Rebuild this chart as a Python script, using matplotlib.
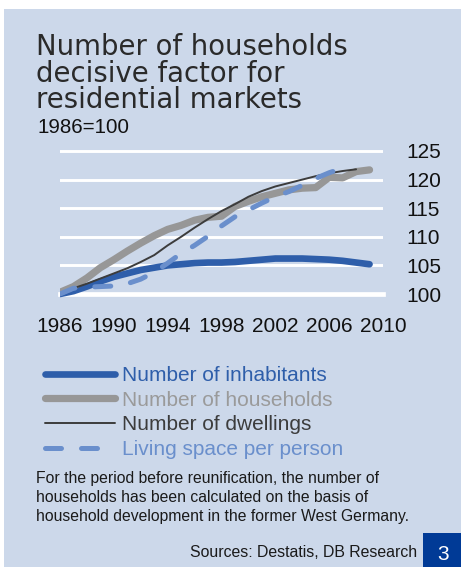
import matplotlib
matplotlib.use("Agg")
import matplotlib.pyplot as plt
from matplotlib.patches import Rectangle
import numpy as np

# ---------------- data ----------------
years_inh = list(range(1986, 2010))
inhabitants = [100.0, 100.5, 101.3, 102.2, 103.0, 103.6, 104.2, 104.6, 105.0, 105.2,
               105.4, 105.5, 105.5, 105.6, 105.8, 106.0, 106.2, 106.2, 106.2, 106.1,
               106.0, 105.8, 105.5, 105.2]

years_hh = list(range(1986, 2010))
households = [100.3, 101.3, 102.8, 104.6, 106.0, 107.5, 108.9, 110.2, 111.3, 112.0,
              112.9, 113.4, 113.6, 115.3, 116.2, 117.0, 117.6, 118.2, 118.5, 118.6,
              120.4, 120.3, 121.4, 121.7]

years_dw = list(range(1987, 2009))
dwellings = [101.0, 101.8, 102.7, 103.6, 104.5, 105.6, 106.8, 108.5, 110.0, 111.6,
             113.1, 114.5, 115.7, 117.0, 118.0, 118.8, 119.4, 120.0, 120.6, 121.1,
             121.5, 121.8]

years_ls = list(range(1986, 2008))
living_space = [100.0, 101.0, 101.2, 101.3, 101.4, 101.8, 102.6, 103.8, 105.4, 107.1,
                108.5, 110.1, 111.9, 113.5, 114.7, 115.9, 117.0, 117.9, 119.0, 120.2,
                121.2, 122.0]

series_labels = ["Number of inhabitants", "Number of households",
                 "Number of dwellings", "Living space per person"]
x_ticks = [1986, 1990, 1994, 1998, 2002, 2006, 2010]
x_ticklabels = ["1986", "1990", "1994", "1998", "2002", "2006", "2010"]
y_ticks = [100, 105, 110, 115, 120, 125]
y_ticklabels = ["100", "105", "110", "115", "120", "125"]

title_lines = ["Number of households", "decisive factor for", "residential markets"]
subtitle = "1986=100"
footnote_lines = ["For the period before reunification, the number of",
                  "households has been calculated on the basis of",
                  "household development in the former West Germany."]
source_text = "Sources: Destatis, DB Research"
badge_text = "3"

# ---------------- style ----------------
W, H = 461, 567
BG = "#CCD8EA"
C_INH = "#2E5EAA"
C_HH = "#979797"
C_DW = "#3C3C3C"
C_LS = "#6A8FCC"
BADGE = "#003A96"
SANS = ["Liberation Sans", "DejaVu Sans"]

fig = plt.figure(figsize=(W / 100, H / 100), dpi=100)
fig.patch.set_facecolor("white")

def fx(px):
    return px / W

def fy(py):
    return 1 - py / H

# panel background
fig.patches.append(Rectangle((fx(4), 0), 1 - fx(4), fy(9), transform=fig.transFigure,
                             facecolor=BG, edgecolor="none", zorder=-10))

# title
for i, line in enumerate(title_lines):
    fig.text(fx(36), fy(55 + i * 26.6), line, fontsize=19.8, family="DejaVu Sans",
             color="#2a2a2a", va="baseline", ha="left")
fig.text(fx(37), fy(133), subtitle, fontsize=14.8, family=SANS,
         color="#111111", va="baseline", ha="left")

# axes
ymin, ymax = 98, 126
py100, py125 = 294.0, 151.0
ppu = (py100 - py125) / 25.0
top_px = py125 - (ymax - 125) * ppu
bot_px = py100 + (100 - ymin) * ppu
ax = fig.add_axes([fx(60), fy(bot_px), fx(383) - fx(60), (bot_px - top_px) / H])
ax.set_facecolor("none")
ax.set_xlim(1986, 2010)
ax.set_ylim(ymin, ymax)

ax.plot(years_inh, inhabitants, color=C_INH, lw=4.8, solid_capstyle="round",
        solid_joinstyle="round", zorder=3, label=series_labels[0])
ax.plot(years_hh, households, color=C_HH, lw=5.2, solid_capstyle="round",
        solid_joinstyle="round", zorder=4, label=series_labels[1])
ax.plot(years_dw, dwellings, color=C_DW, lw=1.4, solid_capstyle="round",
        solid_joinstyle="round", zorder=5, label=series_labels[2])
ax.plot(years_ls, living_space, color=C_LS, lw=3.6, dashes=(3.2, 4.0),
        dash_capstyle="round", zorder=6, label=series_labels[3])

for s in ["top", "left", "right"]:
    ax.spines[s].set_visible(False)
ax.spines["bottom"].set_position(("data", 100))
ax.spines["bottom"].set_color("white")
ax.spines["bottom"].set_linewidth(3.4)
ax.spines["bottom"].set_zorder(1)

ax.set_yticks(y_ticks, labels=y_ticklabels)
ax.yaxis.tick_right()
ax.tick_params(axis="y", length=0, pad=16.5, labelsize=15, labelcolor="#111111")
for t in ax.get_yticklabels():
    t.set_family(SANS)
    t.set_ha("left")
ax.set_xticks(x_ticks, labels=x_ticklabels)
ax.tick_params(axis="x", length=0, pad=16.5, labelsize=15, labelcolor="#111111")
for t in ax.get_xticklabels():
    t.set_family(SANS)

ax.yaxis.grid(True, color="white", lw=2.1, zorder=1)
ax.set_axisbelow(True)

# legend
handles, labels = ax.get_legend_handles_labels()
leg = fig.legend(handles, labels, loc="upper left",
                 bbox_to_anchor=(fx(45), fy(366)), bbox_transform=fig.transFigure,
                 frameon=False, prop={"family": SANS, "size": 15},
                 handlelength=3.37, handletextpad=0.34, labelspacing=0.27,
                 borderpad=0, borderaxespad=0,
                 labelcolor=[C_INH, "#9A9A9A", C_DW, C_LS])

# footnote
for i, line in enumerate(footnote_lines):
    fig.text(fx(36.5), fy(482.7 + i * 19.2), line, fontsize=11.3, family=SANS,
             color="#1a1a1a", va="baseline", ha="left")

fig.text(fx(417), fy(556.7), source_text, fontsize=11.4, family=SANS,
         color="#1a1a1a", va="baseline", ha="right")

fig.patches.append(Rectangle((fx(423), 0), 1 - fx(423), fy(533), transform=fig.transFigure,
                             facecolor=BADGE, edgecolor="none", zorder=1))
fig.text(fx(443), fy(554), badge_text, fontsize=15, family=SANS, color="white",
         va="center", ha="center", zorder=5)

fig.savefig("out.png", dpi=100, facecolor=fig.get_facecolor())
